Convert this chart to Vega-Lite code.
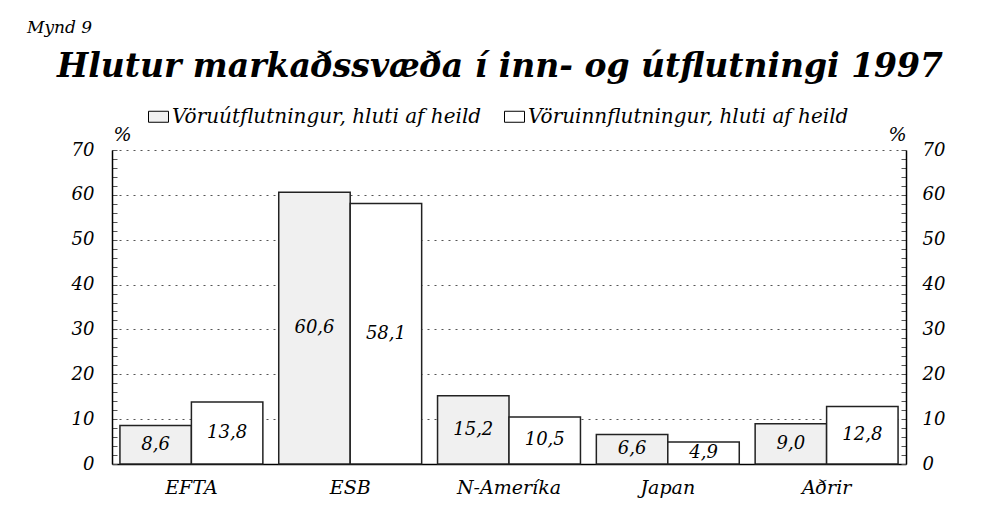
{
  "$schema": "https://vega.github.io/schema/vega-lite/v6.json",
  "background": "white",
  "padding": {"left": 27, "top": 19, "right": 5, "bottom": 5},
  "config": {
    "locale": {"number": {"decimal": ",", "thousands": ".", "grouping": [3], "currency": ["", ""]}},
    "view": {"stroke": null},
    "font": "DejaVu Serif"
  },
  "resolve": {"legend": {"fill": "independent"}},
  "title": {
    "text": "Mynd 9",
    "anchor": "start",
    "frame": "bounds",
    "font": "DejaVu Serif",
    "fontSize": 17,
    "fontStyle": "italic",
    "fontWeight": "normal",
    "color": "black",
    "dx": -30,
    "offset": 14
  },
  "vconcat": [
    {
      "width": 794,
      "height": 314,
      "title": {
        "text": "Hlutur markaðssvæða í inn- og útflutningi 1997",
        "anchor": "middle",
        "font": "DejaVu Serif",
        "fontSize": 33,
        "fontStyle": "italic",
        "fontWeight": "bold",
        "color": "black",
        "dx": -9,
        "offset": 22
      },
      "data": {
        "values": [
          {"region": "EFTA", "serie": "Vöruútflutningur, hluti af heild", "value": 8.6},
          {"region": "EFTA", "serie": "Vöruinnflutningur, hluti af heild", "value": 13.8},
          {"region": "ESB", "serie": "Vöruútflutningur, hluti af heild", "value": 60.6},
          {"region": "ESB", "serie": "Vöruinnflutningur, hluti af heild", "value": 58.1},
          {"region": "N-Ameríka", "serie": "Vöruútflutningur, hluti af heild", "value": 15.2},
          {"region": "N-Ameríka", "serie": "Vöruinnflutningur, hluti af heild", "value": 10.5},
          {"region": "Japan", "serie": "Vöruútflutningur, hluti af heild", "value": 6.6},
          {"region": "Japan", "serie": "Vöruinnflutningur, hluti af heild", "value": 4.9},
          {"region": "Aðrir", "serie": "Vöruútflutningur, hluti af heild", "value": 9.0},
          {"region": "Aðrir", "serie": "Vöruinnflutningur, hluti af heild", "value": 12.8}
        ]
      },
      "encoding": {
        "x": {
          "field": "region",
          "type": "nominal",
          "sort": ["EFTA", "ESB", "N-Ameríka", "Japan", "Aðrir"],
          "scale": {"paddingInner": 0.1, "paddingOuter": 0.05},
          "axis": {
            "title": null,
            "labelAngle": 0,
            "ticks": false,
            "domainColor": "black",
            "domainWidth": 1.5,
            "labelFont": "DejaVu Serif",
            "labelFontStyle": "italic",
            "labelFontSize": 19,
            "labelColor": "black",
            "labelPadding": 14
          }
        },
        "xOffset": {
          "field": "serie",
          "type": "nominal",
          "scale": {"domain": ["Vöruútflutningur, hluti af heild", "Vöruinnflutningur, hluti af heild"], "paddingInner": 0, "paddingOuter": 0}
        }
      },
      "layer": [
        {
          "mark": {"type": "bar", "stroke": "#222", "strokeWidth": 1.5},
          "encoding": {
            "y": {
              "field": "value",
              "type": "quantitative",
              "scale": {"domain": [0, 70], "nice": false},
              "axis": {
                "orient": "left",
                "values": [0, 2, 4, 6, 8, 10, 12, 14, 16, 18, 20, 22, 24, 26, 28, 30, 32, 34, 36, 38, 40, 42, 44, 46, 48, 50, 52, 54, 56, 58, 60, 62, 64, 66, 68, 70],
                "labelExpr": "datum.value % 10 === 0 ? datum.label : ''",
                "labelOverlap": false,
                "labelFont": "DejaVu Serif",
                "labelFontStyle": "italic",
                "labelFontSize": 18,
                "labelColor": "black",
                "labelPadding": 23,
                "tickSize": -5,
                "tickColor": "#555",
                "domainColor": "black",
                "domainWidth": 1.5,
                "grid": true,
                "gridDash": [2, 5],
                "gridColor": "#555",
                "gridOpacity": {"condition": {"test": "datum.value % 10 === 0 && datum.value > 0", "value": 1}, "value": 0},
                "title": "%",
                "titleAngle": 0,
                "titleX": 10,
                "titleY": -16,
                "titleAlign": "center",
                "titleBaseline": "middle",
                "titleFont": "DejaVu Serif",
                "titleFontStyle": "italic",
                "titleFontWeight": "normal",
                "titleFontSize": 19,
                "titleColor": "black"
              }
            },
            "fill": {
              "field": "serie",
              "type": "nominal",
              "scale": {"domain": ["Vöruútflutningur, hluti af heild", "Vöruinnflutningur, hluti af heild"], "range": ["#f0f0f0", "#ffffff"]},
              "legend": {
                "title": null,
                "orient": "none",
                "legendX": 36,
                "legendY": -44,
                "direction": "horizontal",
                "symbolType": "M-1,-0.55H1V0.55H-1Z",
                "symbolSize": 400,
                "symbolStrokeColor": "black",
                "symbolStrokeWidth": 1,
                "labelFont": "DejaVu Serif",
                "labelFontStyle": "italic",
                "labelFontSize": 20,
                "labelColor": "black",
                "labelLimit": 400,
                "labelOffset": 3,
                "columnPadding": 20
              }
            }
          }
        },
        {
          "mark": {"type": "bar", "opacity": 0},
          "encoding": {
            "y": {
              "field": "value",
              "type": "quantitative",
              "scale": {"domain": [0, 70], "nice": false},
              "axis": {
                "orient": "right",
                "values": [0, 2, 4, 6, 8, 10, 12, 14, 16, 18, 20, 22, 24, 26, 28, 30, 32, 34, 36, 38, 40, 42, 44, 46, 48, 50, 52, 54, 56, 58, 60, 62, 64, 66, 68, 70],
                "labelExpr": "datum.value % 10 === 0 ? datum.label : ''",
                "labelOverlap": false,
                "labelFont": "DejaVu Serif",
                "labelFontStyle": "italic",
                "labelFontSize": 18,
                "labelColor": "black",
                "labelPadding": 21,
                "tickSize": -5,
                "tickColor": "#555",
                "domainColor": "black",
                "domainWidth": 1.5,
                "grid": false,
                "title": "%",
                "titleAngle": 0,
                "titleX": -9,
                "titleY": -16,
                "titleAlign": "center",
                "titleBaseline": "middle",
                "titleFont": "DejaVu Serif",
                "titleFontStyle": "italic",
                "titleFontWeight": "normal",
                "titleFontSize": 19,
                "titleColor": "black"
              }
            }
          }
        },
        {
          "mark": {"type": "text", "font": "DejaVu Serif", "fontStyle": "italic", "fontSize": 18, "color": "black", "baseline": "middle", "align": "center"},
          "encoding": {
            "y": {"field": "value", "type": "quantitative", "scale": {"domain": [0, 140], "nice": false}, "axis": null},
            "text": {"field": "value", "type": "quantitative", "format": ".1f"}
          }
        }
      ],
      "resolve": {"scale": {"y": "independent"}, "axis": {"y": "independent"}}
    }
  ]
}
